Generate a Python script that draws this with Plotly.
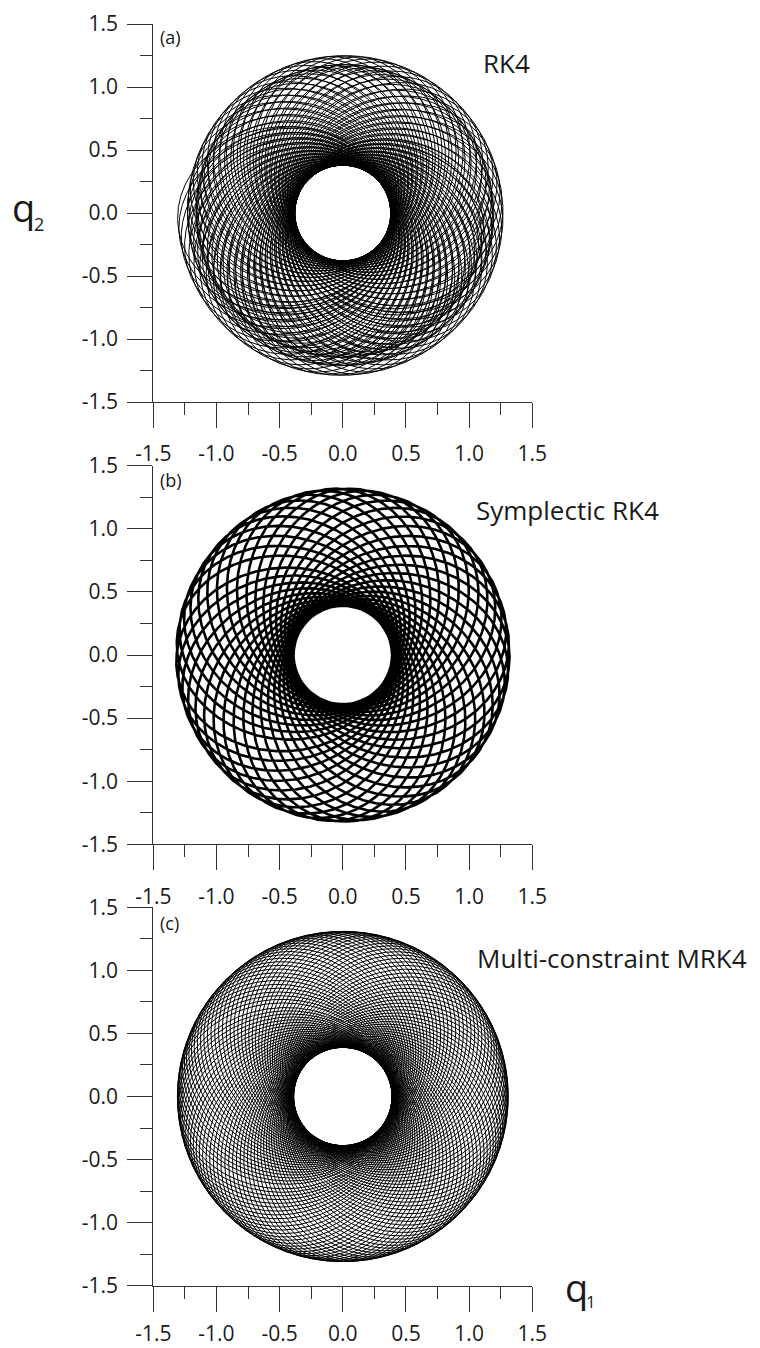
import math
import numpy as np
import plotly.graph_objects as go

# ---------------- data ----------------
panel_tags = ["(a)", "(b)", "(c)"]
method_names = ["RK4", "Symplectic RK4", "Multi-constraint MRK4"]
axis_tick_values = [-1.5, -1.0, -0.5, 0.0, 0.5, 1.0, 1.5]
axis_tick_text = ["-1.5", "-1.0", "-0.5", "0.0", "0.5", "1.0", "1.5"]
axis_minor_values = [-1.25, -0.75, -0.25, 0.25, 0.75, 1.25]
axis_range = [-1.5, 1.5]

# orbit geometry (perturbed Kepler problem q1, q2)
perihelion_radius = [0.38, 0.39, 0.39]   # radius of the empty central hole
aphelion_radius = [1.31, 1.32, 1.31]     # outer radius of the rosette (first orbit)
orbits_per_turn = [60, 44, 110]          # petal orientations in the mesh
turns_shown = [2.5, 1.0, 1.0]
time_step = [0.078, 0.01, 0.01]


def orbit_setup(r1, r2, n):
    mu = 0.0
    L2 = 0.0
    for _ in range(30):
        L2 = 2 * ((1 / r1 - 1 / r2) + mu / 3 * (1 / r1 ** 3 - 1 / r2 ** 3)) / (1 / r1 ** 2 - 1 / r2 ** 2)
        mu = L2 * L2 / n
    return mu, math.sqrt(L2) / r1


def acc(x, y, mu):
    r2 = x * x + y * y
    r = math.sqrt(r2)
    r3 = r2 * r
    f = -(1.0 / r3 + mu / (r3 * r2))
    return f * x, f * y


def rk4_step(x, y, u, v, h, mu):
    a1x, a1y = acc(x, y, mu)
    x2 = x + 0.5 * h * u; y2 = y + 0.5 * h * v
    u2 = u + 0.5 * h * a1x; v2 = v + 0.5 * h * a1y
    a2x, a2y = acc(x2, y2, mu)
    x3 = x + 0.5 * h * u2; y3 = y + 0.5 * h * v2
    u3 = u + 0.5 * h * a2x; v3 = v + 0.5 * h * a2y
    a3x, a3y = acc(x3, y3, mu)
    x4 = x + h * u3; y4 = y + h * v3
    u4 = u + h * a3x; v4 = v + h * a3y
    a4x, a4y = acc(x4, y4, mu)
    return (x + h / 6 * (u + 2 * u2 + 2 * u3 + u4),
            y + h / 6 * (v + 2 * v2 + 2 * v3 + v4),
            u + h / 6 * (a1x + 2 * a2x + 2 * a3x + a4x),
            v + h / 6 * (a1y + 2 * a2y + 2 * a3y + a4y))


S3 = math.sqrt(3) / 6
A11, A12, A21, A22 = 0.25, 0.25 - S3, 0.25 + S3, 0.25


def gl4_step(x, y, u, v, h, mu):
    """2-stage Gauss-Legendre: the symplectic fourth-order Runge-Kutta method."""
    ax, ay = acc(x, y, mu)
    k1 = [u, v, ax, ay]
    k2 = [u, v, ax, ay]
    for _ in range(8):
        z1 = [x + h * (A11 * k1[0] + A12 * k2[0]), y + h * (A11 * k1[1] + A12 * k2[1]),
              u + h * (A11 * k1[2] + A12 * k2[2]), v + h * (A11 * k1[3] + A12 * k2[3])]
        z2 = [x + h * (A21 * k1[0] + A22 * k2[0]), y + h * (A21 * k1[1] + A22 * k2[1]),
              u + h * (A21 * k1[2] + A22 * k2[2]), v + h * (A21 * k1[3] + A22 * k2[3])]
        a1 = acc(z1[0], z1[1], mu)
        a2 = acc(z2[0], z2[1], mu)
        k1 = [z1[2], z1[3], a1[0], a1[1]]
        k2 = [z2[2], z2[3], a2[0], a2[1]]
    return (x + 0.5 * h * (k1[0] + k2[0]), y + 0.5 * h * (k1[1] + k2[1]),
            u + 0.5 * h * (k1[2] + k2[2]), v + 0.5 * h * (k1[3] + k2[3]))


def energy(x, y, u, v, mu):
    r = math.hypot(x, y)
    return 0.5 * (u * u + v * v) - 1 / r - mu / (3 * r ** 3)


def mrk4_step(x, y, u, v, h, mu, E0, L0):
    """RK4 step followed by projection onto the energy and angular-momentum constraints."""
    x, y, u, v = rk4_step(x, y, u, v, h, mu)
    r = math.hypot(x, y)
    ex, ey = x / r, y / r
    pr = u * ex + v * ey
    pt = L0 / r
    pot = -1 / r - mu / (3 * r ** 3)
    pr2 = 2 * (E0 - pot) - pt * pt
    prn = math.copysign(math.sqrt(pr2), pr) if pr2 > 0 else 0.0
    return x, y, prn * ex - pt * ey, prn * ey + pt * ex


def integrate(method, r1, v0, mu, h, turns, n_turn, max_steps=200000):
    x, y, u, v = r1, 0.0, 0.0, v0
    E0 = energy(x, y, u, v, mu)
    L0 = x * v - y * u
    xs, ys, us, vs = [x], [y], [u], [v]
    rv_prev = 0.0
    cum = 0.0
    ang_prev = 0.0
    target = 2 * math.pi * (turns - 0.5 / n_turn)
    for _ in range(max_steps):
        if method == "rk4":
            x, y, u, v = rk4_step(x, y, u, v, h, mu)
        elif method == "gl4":
            x, y, u, v = gl4_step(x, y, u, v, h, mu)
        else:
            x, y, u, v = mrk4_step(x, y, u, v, h, mu, E0, L0)
        xs.append(x); ys.append(y); us.append(u); vs.append(v)
        if x * x + y * y < 0.0025:
            break
        rv = x * u + y * v
        if rv_prev < 0 <= rv:
            ang = math.atan2(y, x)
            d = (ang - ang_prev + math.pi) % (2 * math.pi) - math.pi
            cum += d
            ang_prev = ang
            if cum >= target:
                break
        rv_prev = rv
    return np.array(xs), np.array(ys), np.array(us), np.array(vs)


def hermite_dense(xs, ys, us, vs, h, sub):
    s = np.linspace(0, 1, sub, endpoint=False)
    h00 = 2 * s ** 3 - 3 * s ** 2 + 1
    h10 = s ** 3 - 2 * s ** 2 + s
    h01 = -2 * s ** 3 + 3 * s ** 2
    h11 = s ** 3 - s ** 2
    X = (h00[None, :] * xs[:-1, None] + h10 * h * us[:-1, None]
         + h01 * xs[1:, None] + h11 * h * us[1:, None]).ravel()
    Y = (h00[None, :] * ys[:-1, None] + h10 * h * vs[:-1, None]
         + h01 * ys[1:, None] + h11 * h * vs[1:, None]).ravel()
    return np.append(X, xs[-1]), np.append(Y, ys[-1])


methods = ["rk4", "gl4", "mrk4"]
curves = []
for i in range(3):
    mu, v0 = orbit_setup(perihelion_radius[i], aphelion_radius[i], orbits_per_turn[i])
    xs, ys, us, vs = integrate(methods[i], perihelion_radius[i], v0, mu, time_step[i],
                               turns_shown[i], orbits_per_turn[i])
    if methods[i] == "rk4":
        X, Y = hermite_dense(xs, ys, us, vs, time_step[i], 5)
    else:
        X, Y = xs, ys
    curves.append((X, Y))

# ---------------- figure ----------------
# the page body keeps an 8 px margin, so the figure is 8 px smaller on each side
PAGE_OFFSET = 8
W, H = 760 - PAGE_OFFSET, 1348 - PAGE_OFFSET
plot_left, plot_right = 153.3, 532.3
panel_tops = [24.0, 465.7, 907.3]
panel_bottoms = [402.0, 844.3, 1285.7]
x_label_standoff = [8, 8, 4]
line_widths = [1.0, 2.6, 1.0]
AXIS_COLOR = "#333333"
TEXT_COLOR = "#1a1a1a"
FONT = "Open Sans"


def px_x(x):
    return (x - PAGE_OFFSET) / W


def px_y(y):
    return 1 - (y - PAGE_OFFSET) / H


fig = go.Figure()
for i in range(3):
    X, Y = curves[i]
    fig.add_trace(go.Scatter(x=X, y=Y, mode="lines",
                             line=dict(color="black", width=line_widths[i]),
                             xaxis="x" if i == 0 else f"x{i+1}",
                             yaxis="y" if i == 0 else f"y{i+1}",
                             hoverinfo="skip", showlegend=False))

layout = dict(width=W, height=H, margin=dict(l=0, r=0, t=0, b=0, pad=0, autoexpand=False),
              paper_bgcolor="white", plot_bgcolor="white", showlegend=False)


def axis_style(domain, anchor, standoff):
    return dict(domain=domain, anchor=anchor, range=axis_range, automargin=False,
                tickmode="array", tickvals=axis_tick_values, ticktext=axis_tick_text,
                ticks="outside", ticklen=25, tickwidth=1, tickcolor=AXIS_COLOR,
                showline=True, linecolor=AXIS_COLOR, linewidth=1,
                showgrid=False, zeroline=False, fixedrange=True,
                ticklabelstandoff=standoff,
                tickfont=dict(family=FONT, size=21, color=TEXT_COLOR),
                minor=dict(tickmode="array", tickvals=axis_minor_values, ticks="outside",
                           ticklen=12, tickwidth=1, tickcolor=AXIS_COLOR, showgrid=False))


for i in range(3):
    xd = [px_x(plot_left), px_x(plot_right)]
    yd = [px_y(panel_bottoms[i]), px_y(panel_tops[i])]
    xk = "xaxis" if i == 0 else f"xaxis{i+1}"
    yk = "yaxis" if i == 0 else f"yaxis{i+1}"
    xa = "x" if i == 0 else f"x{i+1}"
    ya = "y" if i == 0 else f"y{i+1}"
    layout[xk] = axis_style(xd, ya, x_label_standoff[i])
    layout[yk] = axis_style(yd, xa, 5)

annotations = []


def txt(text, x, y, size, xanchor="left", yanchor="middle"):
    annotations.append(dict(text=text, x=px_x(x), y=px_y(y), xref="paper", yref="paper",
                            xanchor=xanchor, yanchor=yanchor, showarrow=False,
                            font=dict(family=FONT, size=size, color=TEXT_COLOR)))


tag_y = [37, 480, 923]
name_pos = [(481, 63), (474, 510), (475, 958)]
for i in range(3):
    txt(panel_tags[i], 158, tag_y[i], 18)
    txt(method_names[i], name_pos[i][0], name_pos[i][1], 26)

txt("q", 23, 207, 38, xanchor="center")
txt("2", 39, 224, 18, xanchor="center")
txt("q", 576.7, 1287, 38, xanchor="center")
txt("1", 591, 1301, 17, xanchor="center")

layout["annotations"] = annotations
fig.update_layout(**layout)
fig.write_html("out.html")
